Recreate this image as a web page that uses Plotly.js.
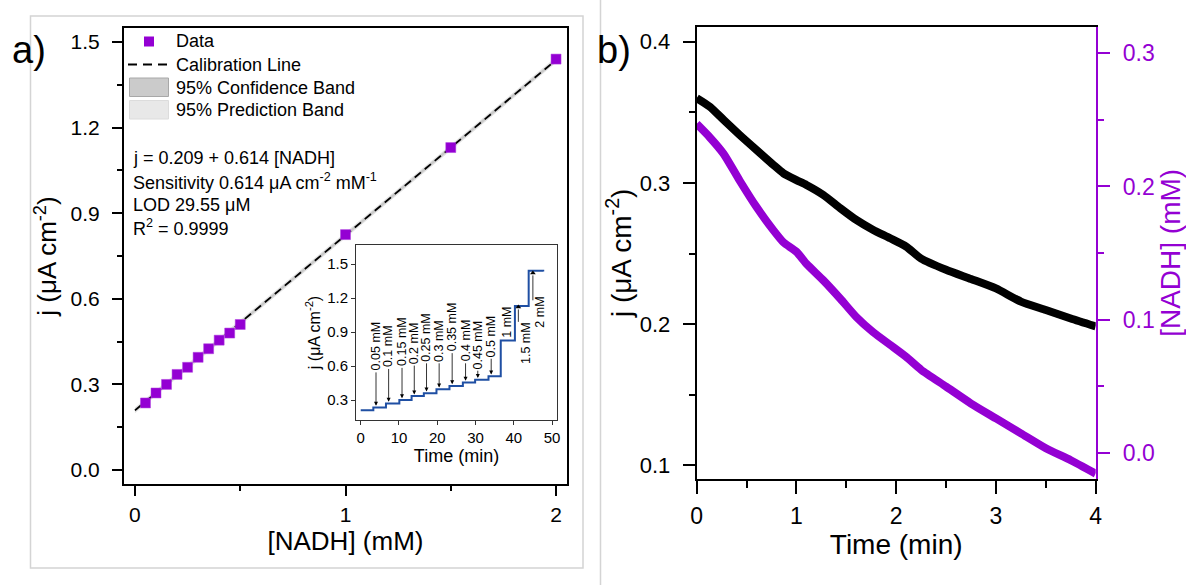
<!DOCTYPE html>
<html><head><meta charset="utf-8">
<script src="https://cdn.plot.ly/plotly-3.0.1.min.js"></script>
<style>html,body{margin:0;padding:0;background:#fff}#chart{width:1186px;height:585px}</style>
</head><body><div id="chart"></div>
<script>
// ---------- Panel a) calibration ----------
const nadhConc = [0.05, 0.1, 0.15, 0.2, 0.25, 0.3, 0.35, 0.4, 0.45, 0.5, 1, 1.5, 2];
const currentDensity = [0.235, 0.27, 0.30, 0.335, 0.36, 0.395, 0.425, 0.455, 0.48, 0.51, 0.825, 1.13, 1.44];
const calibX = [0, 2];
const calibY = [0.209, 1.437];
const confLowerY = [0.204, 1.432];
const confUpperY = [0.214, 1.442];
const predLowerY = [0.199, 1.427];
const predUpperY = [0.219, 1.447];

// ---------- Inset: chronoamperometry steps ----------
const insetTime = [0, 3.3, 6.6, 10.1, 13.3, 16.5, 19.8, 23.2, 26.7, 29.9, 33.4, 36.6, 40.3, 43.9, 47.7];
const insetJ = [0.21, 0.235, 0.27, 0.30, 0.335, 0.36, 0.395, 0.425, 0.455, 0.48, 0.51, 0.825, 1.13, 1.44, 1.435];
const downLabels = ['0.05 mM', '0.1 mM', '0.15 mM', '0.2 mM', '0.25 mM', '0.3 mM', '0.35 mM', '0.4 mM', '0.45 mM', '0.5 mM'];
const downArrowT = [4.0, 7.3, 10.8, 14.0, 17.2, 20.5, 23.9, 27.4, 30.6, 34.1];
const downHeadJ = [0.25, 0.285, 0.315, 0.35, 0.375, 0.41, 0.44, 0.47, 0.495, 0.525];
const downTailJ = [0.55, 0.58, 0.59, 0.61, 0.63, 0.63, 0.72, 0.63, 0.565, 0.67];
const upLabels = ['1.5 mM', '2 mM'];
const upArrowT = [41.2, 45.0];
const upHeadJ = [1.12, 1.42];
const upTailJ = [0.99, 1.18];
const upTextT = [43.2, 46.9];
const upTextTopJ = [1.006, 1.227];
const oneMLabel = '1 mM';
const oneMT = 38.3;
const oneMJ = 0.83;

// ---------- Panel b) time course ----------
const timeMin = [0, 0.13, 0.27, 0.43, 0.6, 0.77, 0.87, 1.0, 1.1, 1.27, 1.44, 1.6, 1.77, 1.94, 2.1, 2.25, 2.5, 2.75, 3.0, 3.25, 3.5, 3.75, 4.0];
const jTime = [0.360, 0.354, 0.3446, 0.334, 0.3233, 0.3127, 0.3068, 0.302, 0.2986, 0.2915, 0.2821, 0.2738, 0.2667, 0.2608, 0.2549, 0.2464, 0.2385, 0.232, 0.2253, 0.216, 0.210, 0.204, 0.1984];
const nadhTime = [0.247, 0.237, 0.2245, 0.2045, 0.1845, 0.167, 0.158, 0.151, 0.142, 0.1295, 0.1157, 0.102, 0.0905, 0.081, 0.072, 0.0623, 0.0497, 0.037, 0.0258, 0.0146, 0.0034, -0.0056, -0.0157];

const legendNames = ['Data', 'Calibration Line', '95% Confidence Band', '95% Prediction Band'];
const fitText = ['j = 0.209 + 0.614 [NADH]', 'Sensitivity 0.614 μA cm<sup>-2</sup> mM<sup>-1</sup>', 'LOD 29.55 μM', 'R<sup>2</sup> = 0.9999'];

const W = 1186, H = 585;
const px = v => v / W, py = v => 1 - v / H;
const PURPLE = '#9400d3';
const FONT = 'Liberation Sans, Arial, sans-serif';
const SMALL_FAMILY = 'Liberation Sans Narrow, Arial Narrow, Liberation Sans, Arial, sans-serif';
const SMALL_SIZE = 12.5;

// inset geometry (for placing rotated labels above their arrows)
const INSET_TOP = 245, INSET_BOTTOM = 420;
const INSET_YRANGE = [0.124, 1.668];
const insetPxPerUnit = (INSET_BOTTOM - INSET_TOP) / (INSET_YRANGE[1] - INSET_YRANGE[0]);
const cvs = document.createElement('canvas').getContext('2d');
cvs.font = SMALL_SIZE + 'px ' + SMALL_FAMILY;
const textLen = s => cvs.measureText(s).width;

const traces = [
  {x: calibX, y: predLowerY, xaxis: 'x', yaxis: 'y', mode: 'lines', line: {width: 0, color: '#e6e6e6'}, showlegend: false, hoverinfo: 'skip'},
  {x: calibX, y: predUpperY, xaxis: 'x', yaxis: 'y', mode: 'lines', fill: 'tonexty', fillcolor: '#e4e4e4', line: {width: 0, color: '#e4e4e4'}, name: legendNames[3], showlegend: false},
  {x: calibX, y: confLowerY, xaxis: 'x', yaxis: 'y', mode: 'lines', line: {width: 0, color: '#c8c8c8'}, showlegend: false, hoverinfo: 'skip'},
  {x: calibX, y: confUpperY, xaxis: 'x', yaxis: 'y', mode: 'lines', fill: 'tonexty', fillcolor: '#c8c8c8', line: {width: 0, color: '#c8c8c8'}, name: legendNames[2], showlegend: false},
  {x: calibX, y: calibY, xaxis: 'x', yaxis: 'y', mode: 'lines', line: {color: '#000', width: 1.8, dash: '8px,5px'}, name: legendNames[1], showlegend: false},
  {x: nadhConc, y: currentDensity, xaxis: 'x', yaxis: 'y', mode: 'markers', marker: {symbol: 'square', size: 10, color: PURPLE, line: {width: 0.5, color: '#b040e0'}}, name: legendNames[0], showlegend: false},
  {x: insetTime, y: insetJ, xaxis: 'x2', yaxis: 'y2', mode: 'lines', line: {shape: 'hv', color: '#1f4fa3', width: 2}, showlegend: false},
  // up-arrow heads for the 1.5 mM and 2 mM marks
  {x: upArrowT, y: upHeadJ, xaxis: 'x2', yaxis: 'y2', mode: 'markers', marker: {symbol: 'triangle-up', size: 5, color: '#000'}, showlegend: false, hoverinfo: 'skip'},
  {x: timeMin, y: jTime, xaxis: 'x3', yaxis: 'y3', mode: 'lines', line: {color: '#000', width: 8, shape: 'spline', smoothing: 0.6}, showlegend: false},
  {x: timeMin, y: nadhTime, xaxis: 'x3', yaxis: 'y4', mode: 'lines', line: {color: PURPLE, width: 8, shape: 'spline', smoothing: 0.6}, showlegend: false}
];

const ann = [];
// panel letters
ann.push({xref: 'paper', yref: 'paper', x: px(10), y: py(50), xanchor: 'left', yanchor: 'middle', text: 'a)', showarrow: false, font: {family: FONT, size: 38, color: '#000'}});
ann.push({xref: 'paper', yref: 'paper', x: px(595), y: py(50), xanchor: 'left', yanchor: 'middle', text: 'b)', showarrow: false, font: {family: FONT, size: 38, color: '#000'}});
// legend text
const legY = [41.5, 64.5, 87.5, 110];
legendNames.forEach((n, i) => ann.push({xref: 'paper', yref: 'paper', x: px(174), y: py(legY[i]), xanchor: 'left', yanchor: 'middle', text: n, showarrow: false, font: {family: FONT, size: 18, color: '#000'}}));
// fit text
const fitY = [158, 181.5, 204.5, 227.5];
fitText.forEach((t, i) => ann.push({xref: 'paper', yref: 'paper', x: px(131), y: py(fitY[i]), xanchor: 'left', yanchor: 'middle', text: t, showarrow: false, font: {family: FONT, size: 18, color: '#000'}}));
// inset arrows & labels (label centred above the arrow tail)
const smallFont = {family: SMALL_FAMILY, size: SMALL_SIZE, color: '#000'};
downLabels.forEach((lab, i) => {
  const centreJ = downTailJ[i] + (textLen(lab) / 2 + 1) / insetPxPerUnit;
  ann.push({xref: 'x2', yref: 'y2', axref: 'x2', ayref: 'y2', x: downArrowT[i], y: downHeadJ[i], ax: downArrowT[i], ay: centreJ,
    textangle: -90, text: lab, showarrow: true,
    arrowhead: 2, arrowsize: 1, arrowwidth: 0.8, arrowcolor: '#000', standoff: 0, startstandoff: 0, font: smallFont});
});
ann.push({xref: 'x2', yref: 'y2', x: oneMT, y: oneMJ, xanchor: 'center', yanchor: 'bottom', textangle: -90, text: oneMLabel, showarrow: false, font: smallFont});
upLabels.forEach((lab, i) => {
  ann.push({xref: 'x2', yref: 'y2', x: upTextT[i], y: upTextTopJ[i], xanchor: 'center', yanchor: 'top', textangle: -90, text: lab, showarrow: false, font: smallFont});
});

const shapes = [
  // panel frame and divider
  {type: 'rect', xref: 'paper', yref: 'paper', x0: px(30.5), x1: px(583), y0: py(568), y1: py(16), line: {color: '#d4d4d4', width: 1.5}},
  {type: 'line', xref: 'paper', yref: 'paper', x0: px(600.5), x1: px(600.5), y0: 0, y1: 1, line: {color: '#d4d4d4', width: 1.5}},
  // legend symbols
  {type: 'rect', xref: 'paper', yref: 'paper', x0: px(144), x1: px(154), y0: py(46.5), y1: py(36.5), fillcolor: PURPLE, line: {width: 0}},
  {type: 'line', xref: 'paper', yref: 'paper', x0: px(128), x1: px(171), y0: py(64.5), y1: py(64.5), line: {color: '#000', width: 2, dash: '9px,6px'}},
  {type: 'rect', xref: 'paper', yref: 'paper', x0: px(129.5), x1: px(168.5), y0: py(96.5), y1: py(78), fillcolor: '#cbcbcb', line: {color: '#a8a8a8', width: 1}},
  {type: 'rect', xref: 'paper', yref: 'paper', x0: px(129.5), x1: px(168.5), y0: py(119), y1: py(100.5), fillcolor: '#e8e8e8', line: {color: '#dcdcdc', width: 1}}
];
// up-arrow shafts
upArrowT.forEach((t, i) => shapes.push({type: 'line', xref: 'x2', yref: 'y2', x0: t, x1: t, y0: upTailJ[i], y1: upHeadJ[i] - 0.02, line: {color: '#000', width: 0.8}}));

const tickFontA = {family: FONT, size: 21, color: '#000'};
const layout = {
  width: W, height: H,
  margin: {l: 0, r: 0, t: 0, b: 0},
  paper_bgcolor: '#fff', plot_bgcolor: 'rgba(0,0,0,0)',
  showlegend: false,
  font: {family: FONT, color: '#000'},
  xaxis: {
    domain: [px(124), px(567)], anchor: 'y', range: [-0.052, 2.052],
    tickmode: 'linear', tick0: 0, dtick: 1, ticks: 'outside', ticklen: 10, tickwidth: 2, tickcolor: '#000',
    minor: {tickmode: 'linear', tick0: 0, dtick: 0.5, ticks: 'outside', ticklen: 5, tickwidth: 2, tickcolor: '#000'},
    showline: true, linewidth: 2, linecolor: '#000', mirror: true, showgrid: false, zeroline: false,
    tickfont: tickFontA, ticklabelstandoff: 1,
    title: {text: '[NADH] (mM)', font: {family: FONT, size: 26, color: '#000'}, standoff: 6}
  },
  yaxis: {
    domain: [py(484), py(28)], anchor: 'x', range: [-0.049, 1.549],
    tickmode: 'linear', tick0: 0, dtick: 0.3, tickformat: '.1f', ticks: 'outside', ticklen: 10, tickwidth: 2, tickcolor: '#000',
    minor: {tickmode: 'linear', tick0: 0, dtick: 0.15, ticks: 'outside', ticklen: 5, tickwidth: 2, tickcolor: '#000'},
    showline: true, linewidth: 2, linecolor: '#000', mirror: true, showgrid: false, zeroline: false,
    tickfont: tickFontA, ticklabelstandoff: 8,
    title: {text: 'j (μA cm<sup>-2</sup>)', font: {family: FONT, size: 26, color: '#000'}, standoff: 6}
  },
  xaxis2: {
    domain: [px(356), px(557)], anchor: 'y2', range: [-1.23, 51.3],
    tickmode: 'linear', tick0: 0, dtick: 10, ticks: 'outside', ticklen: 4, tickwidth: 1, tickcolor: '#333',
    showline: true, linewidth: 1, linecolor: '#333', mirror: true, showgrid: false, zeroline: false,
    tickfont: {family: FONT, size: 15, color: '#000'}, ticklabelstandoff: 0,
    title: {text: 'Time (min)', font: {family: FONT, size: 18, color: '#000'}, standoff: 2}
  },
  yaxis2: {
    domain: [py(INSET_BOTTOM), py(INSET_TOP)], anchor: 'x2', range: INSET_YRANGE,
    tickvals: [0.3, 0.6, 0.9, 1.2, 1.5], tickformat: '.1f', ticks: 'outside', ticklen: 4, tickwidth: 1, tickcolor: '#333',
    showline: true, linewidth: 1, linecolor: '#333', mirror: true, showgrid: false, zeroline: false,
    tickfont: {family: FONT, size: 15, color: '#000'}, ticklabelstandoff: 0,
    title: {text: 'j (μA cm<sup>-2</sup>)', font: {family: FONT, size: 16, color: '#000'}, standoff: 2}
  },
  xaxis3: {
    domain: [px(696.7), px(1095.7)], anchor: 'y3', range: [0, 4],
    tickmode: 'linear', tick0: 0, dtick: 1, ticks: 'outside', ticklen: 13, tickwidth: 2, tickcolor: '#000',
    minor: {tickmode: 'linear', tick0: 0, dtick: 0.5, ticks: 'outside', ticklen: 7, tickwidth: 2, tickcolor: '#000'},
    showline: true, linewidth: 2, linecolor: '#000', mirror: true, showgrid: false, zeroline: false,
    tickfont: {family: FONT, size: 23, color: '#000'}, ticklabelstandoff: 2,
    title: {text: 'Time (min)', font: {family: FONT, size: 28, color: '#000'}, standoff: 6}
  },
  yaxis3: {
    domain: [py(479), py(26.7)], anchor: 'x3', range: [0.0904, 0.4106],
    tickmode: 'linear', tick0: 0, dtick: 0.1, tickformat: '.1f', ticks: 'outside', ticklen: 12, tickwidth: 2, tickcolor: '#000',
    minor: {tickmode: 'linear', tick0: 0, dtick: 0.05, ticks: 'outside', ticklen: 6, tickwidth: 2, tickcolor: '#000'},
    showline: true, linewidth: 2, linecolor: '#000', mirror: false, showgrid: false, zeroline: false,
    tickfont: {family: FONT, size: 22, color: '#000'}, ticklabelstandoff: 8,
    title: {text: 'j (μA cm<sup>-2</sup>)', font: {family: FONT, size: 28, color: '#000'}, standoff: 0}
  },
  yaxis4: {
    domain: [py(479), py(26.7)], anchor: 'x3', overlaying: 'y3', side: 'right', range: [-0.0197, 0.320],
    tickmode: 'linear', tick0: 0, dtick: 0.1, tickformat: '.1f', ticks: 'outside', ticklen: 12, tickwidth: 2, tickcolor: PURPLE,
    minor: {tickmode: 'linear', tick0: 0, dtick: 0.05, ticks: 'outside', ticklen: 6, tickwidth: 2, tickcolor: PURPLE},
    showline: true, linewidth: 2.5, linecolor: PURPLE, showgrid: false, zeroline: false,
    tickfont: {family: FONT, size: 23, color: PURPLE}, ticklabelstandoff: 8,
    title: {text: '[NADH] (mM)', font: {family: FONT, size: 28, color: PURPLE}, standoff: 4}
  },
  annotations: ann,
  shapes: shapes
};

Plotly.newPlot('chart', traces, layout, {staticPlot: true, displayModeBar: false});
</script>
</body></html>
